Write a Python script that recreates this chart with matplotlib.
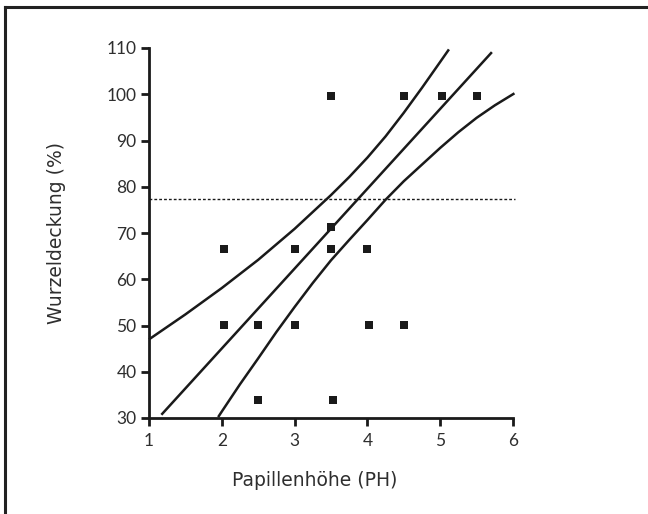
import matplotlib.pyplot as plt
from matplotlib.lines import Line2D

# --- Daten ---
ph = [2.03, 2.03, 2.5, 2.5, 3.0, 3.0, 3.5, 3.5, 3.5, 3.53, 4.0, 4.02, 4.5, 4.5, 5.02, 5.5]
deckung = [66.5, 50.2, 50.2, 33.8, 66.5, 50.2, 99.7, 71.2, 66.5, 33.8, 66.5, 50.2, 99.7, 50.2, 99.7, 99.7]

# Regressionsgerade (Endpunkte)
reg_x = [1.17, 5.71]
reg_y = [30.7, 109.1]

# obere / untere Konfidenzgrenze
ob_x = [1.0, 1.5, 2.0, 2.5, 3.0, 3.5, 3.75, 4.0, 4.25, 4.5, 4.75, 5.0, 5.12]
ob_y = [47.0, 52.4, 58.1, 64.2, 70.9, 78.2, 82.1, 86.3, 90.9, 96.0, 101.4, 107.0, 109.7]
un_x = [1.95, 2.0, 2.25, 2.5, 2.75, 3.0, 3.25, 3.5, 3.75, 4.0, 4.25, 4.5, 4.75, 5.0,
        5.25, 5.5, 5.75, 6.02]
un_y = [30.2, 31.4, 37.3, 42.9, 48.6, 54.0, 59.2, 64.1, 68.5, 72.8, 77.2, 81.2, 84.8, 88.4,
        91.8, 94.9, 97.6, 100.2]

schwelle = 77.4

xticks = [1, 2, 3, 4, 5, 6]
yticks = [30, 40, 50, 60, 70, 80, 90, 100, 110]

plt.rcParams['font.family'] = ['Lato', 'DejaVu Sans']
textfarbe = '#2e2e2e'
linie = '#1a1a1a'

fig = plt.figure(figsize=(6.48, 5.14), dpi=100)
ax = fig.add_axes([149 / 648, 1 - 418 / 514, 364 / 648, 370 / 514])

# Rahmen oben und links
fig.add_artist(Line2D([5 / 648, 5 / 648], [0, 1 - 7 / 514], transform=fig.transFigure,
                      color='#222222', lw=2.2))
fig.add_artist(Line2D([5 / 648, 1], [1 - 7 / 514, 1 - 7 / 514], transform=fig.transFigure,
                      color='#222222', lw=2.2))

ax.plot(reg_x, reg_y, color=linie, lw=1.8, clip_on=False, solid_capstyle='butt')
ax.plot(ob_x, ob_y, color=linie, lw=1.8, clip_on=False, solid_capstyle='butt')
ax.plot(un_x, un_y, color=linie, lw=1.8, clip_on=False, solid_capstyle='butt')
ax.plot([1, 6.03], [schwelle, schwelle], color=linie, lw=1.0,
        linestyle=(0, (2, 1.5)), clip_on=False)

ax.scatter(ph, deckung, marker='s', s=34, color=linie, linewidths=0, zorder=3, clip_on=False)

ax.set_xlim(1, 6)
ax.set_ylim(30, 110)
ax.set_xticks(xticks)
ax.set_yticks(yticks)

for s in ['top', 'right']:
    ax.spines[s].set_visible(False)
for s in ['left', 'bottom']:
    ax.spines[s].set_linewidth(2)
    ax.spines[s].set_color(linie)

ax.tick_params(direction='out', length=6, width=2, color=linie,
               labelsize=12.5, labelcolor=textfarbe)
ax.tick_params(axis='y', pad=3)
ax.tick_params(axis='x', pad=5)

ax.set_xlabel('Papillenhöhe (PH)', fontsize=13.5, color=textfarbe, family='DejaVu Sans')
ax.set_ylabel('Wurzeldeckung (%)', fontsize=13.5, color=textfarbe, family='DejaVu Sans')
ax.xaxis.set_label_coords((315 - 149) / 364, -(480 - 418) / 370)
ax.yaxis.set_label_coords(-(149 - 56) / 364, 0.5)
ax.xaxis.label.set_va('center')
ax.yaxis.label.set_va('center')

fig.savefig('out.png', dpi=100)
